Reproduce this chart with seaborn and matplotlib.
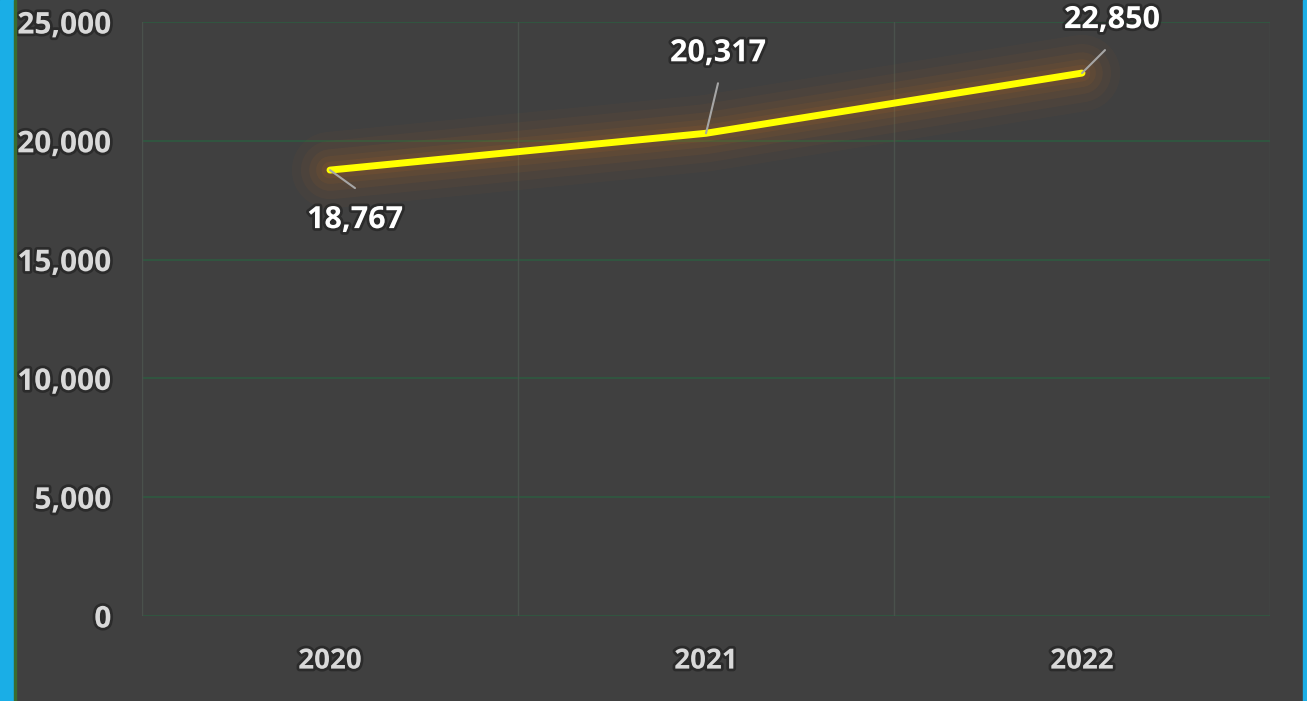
import numpy as np
import pandas as pd
import matplotlib
matplotlib.use("Agg")
import matplotlib.pyplot as plt
import matplotlib.patheffects as pe
import seaborn as sns

# chart values
years = ["2020", "2021", "2022"]
values = [18767, 20317, 22850]
y_ticks = [0, 5000, 10000, 15000, 20000, 25000]
label_offsets = [(25, -50), (12, 80), (30, 53)]   # label centre, pixels from point
leader_ends = [(25, -18), (12, 50), (23, 23)]     # leader line end, pixels from point

df = pd.DataFrame({"year": years, "value": values})
df["x"] = np.arange(len(years))

sns.set_style("dark")
plt.rcParams["font.family"] = ["Open Sans", "DejaVu Sans"]

bg = "#404040"
fig = plt.figure(figsize=(13.07, 7.01), dpi=100, facecolor=bg)
ax = fig.add_axes([142 / 1307, 85 / 701, 1128 / 1307, 594 / 701])
ax.set_facecolor(bg)

# blue side strips
fig.patches.append(plt.Rectangle((0, 0), 14 / 1307, 1, transform=fig.transFigure, color="#1aaee6", zorder=0))
fig.patches.append(plt.Rectangle((14 / 1307, 0), 2 / 1307, 1, transform=fig.transFigure, color="#3b6b2e", zorder=0))
fig.patches.append(plt.Rectangle((1303 / 1307, 0), 4 / 1307, 1, transform=fig.transFigure, color="#1aaee6", zorder=0))

# grid
for yv in y_ticks:
    ax.axhline(yv, color="#2f5a40", lw=1.2, zorder=1)
for xv in [-0.5, 0.5, 1.5, 2.5]:
    ax.axvline(xv, color="#4a514c", lw=1, zorder=1)

# soft orange glow under the line
for w, a in [(55, 0.03), (42, 0.04), (30, 0.05), (20, 0.06), (12, 0.07)]:
    ax.plot(df["x"], df["value"], color="#ff7f10", lw=w, alpha=a, solid_capstyle="round", zorder=2)
sns.lineplot(data=df, x="x", y="value", color="#ffff00", lw=5, ax=ax, zorder=3)

shadow = [pe.withStroke(linewidth=4, foreground="#1e1e1e", alpha=0.6)]
for xv, yv, (dx, dy), (lx, ly) in zip(df["x"], df["value"], label_offsets, leader_ends):
    ax.annotate("", xy=(xv, yv), xytext=(lx, ly), textcoords="offset pixels", zorder=4,
                arrowprops=dict(arrowstyle="-", color="#a6a6a6", lw=1.5, shrinkA=0, shrinkB=0))
    ax.annotate(f"{yv:,}", xy=(xv, yv), xytext=(dx, dy), textcoords="offset pixels",
                ha="center", va="center", fontsize=22, fontweight="bold", color="white",
                path_effects=shadow, zorder=4)

ax.set_xlim(-0.5, 2.5)
ax.set_ylim(0, 25000)
ax.set_xticks(df["x"])
ax.set_xticklabels(years)
ax.set_yticks(y_ticks)
ax.set_yticklabels([f"{v:,}" for v in y_ticks])
ax.tick_params(axis="both", length=0, labelcolor="#d9d9d9")
ax.tick_params(axis="y", pad=22, labelsize=21.5)
ax.tick_params(axis="x", pad=22, labelsize=20)
for lab in ax.get_xticklabels() + ax.get_yticklabels():
    lab.set_fontweight("bold")
    lab.set_path_effects(shadow)
ax.set_xlabel("")
ax.set_ylabel("")
ax.grid(False)
for s in ax.spines.values():
    s.set_visible(False)

fig.savefig("out.png", dpi=100, facecolor=bg)
